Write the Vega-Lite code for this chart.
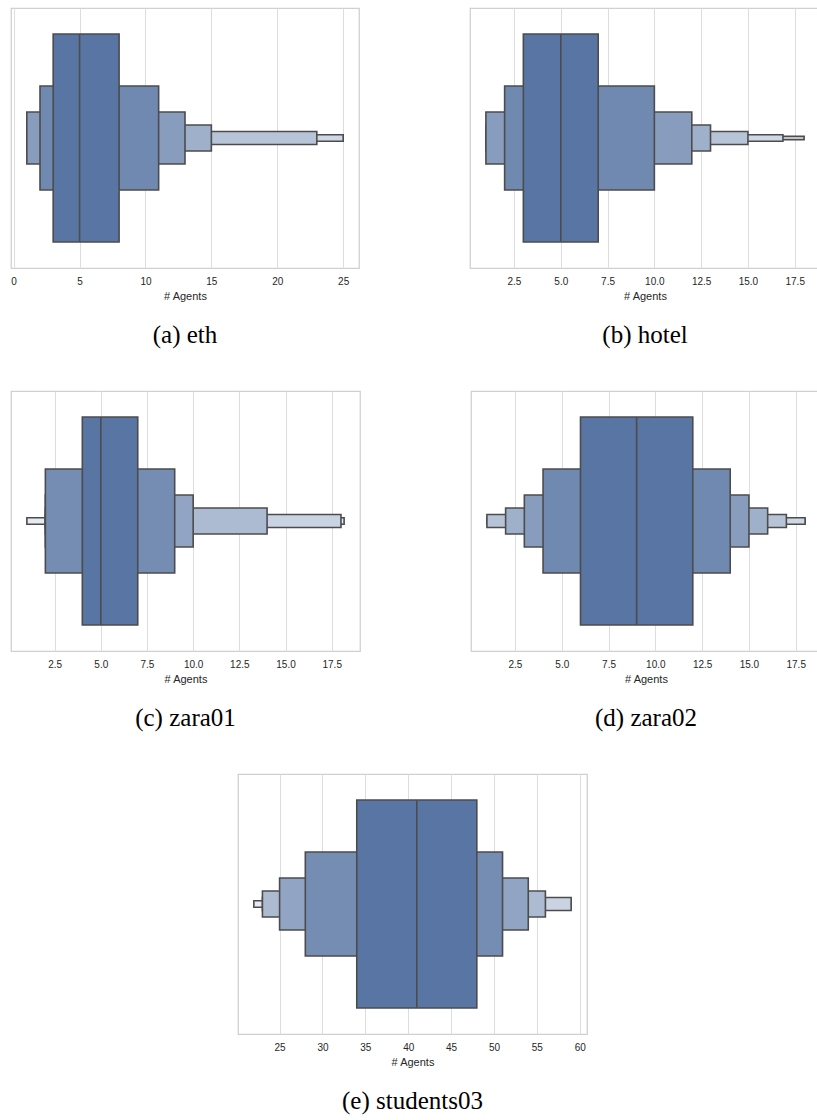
{
  "$schema": "https://vega.github.io/schema/vega-lite/v6.json",
  "background": "white",
  "padding": {"left": 10, "top": 7, "right": 0, "bottom": 0},
  "datasets": {
    "eth": [
      {"set": "eth", "level": 7, "lo": 1, "hi": 25},
      {"set": "eth", "level": 6, "lo": 1, "hi": 25},
      {"set": "eth", "level": 5, "lo": 1, "hi": 23},
      {"set": "eth", "level": 4, "lo": 1, "hi": 15},
      {"set": "eth", "level": 3, "lo": 1, "hi": 13},
      {"set": "eth", "level": 2, "lo": 2, "hi": 11},
      {"set": "eth", "level": 1, "lo": 3, "hi": 8}
    ],
    "hotel": [
      {"set": "hotel", "level": 7, "lo": 1, "hi": 18},
      {"set": "hotel", "level": 6, "lo": 1, "hi": 16.87},
      {"set": "hotel", "level": 5, "lo": 1, "hi": 15},
      {"set": "hotel", "level": 4, "lo": 1, "hi": 13},
      {"set": "hotel", "level": 3, "lo": 1, "hi": 12},
      {"set": "hotel", "level": 2, "lo": 2, "hi": 10},
      {"set": "hotel", "level": 1, "lo": 3, "hi": 7}
    ],
    "zara01": [
      {"set": "zara01", "level": 6, "lo": 1, "hi": 18.17},
      {"set": "zara01", "level": 5, "lo": 2, "hi": 18},
      {"set": "zara01", "level": 4, "lo": 2, "hi": 14},
      {"set": "zara01", "level": 3, "lo": 2, "hi": 10},
      {"set": "zara01", "level": 2, "lo": 2, "hi": 9},
      {"set": "zara01", "level": 1, "lo": 4, "hi": 7}
    ],
    "zara02": [
      {"set": "zara02", "level": 7, "lo": 1, "hi": 18},
      {"set": "zara02", "level": 6, "lo": 1, "hi": 18},
      {"set": "zara02", "level": 5, "lo": 1, "hi": 17},
      {"set": "zara02", "level": 4, "lo": 2, "hi": 16},
      {"set": "zara02", "level": 3, "lo": 3, "hi": 15},
      {"set": "zara02", "level": 2, "lo": 4, "hi": 14},
      {"set": "zara02", "level": 1, "lo": 6, "hi": 12}
    ],
    "students03": [
      {"set": "students03", "level": 6, "lo": 22, "hi": 59},
      {"set": "students03", "level": 5, "lo": 23, "hi": 59},
      {"set": "students03", "level": 4, "lo": 23, "hi": 56},
      {"set": "students03", "level": 3, "lo": 25, "hi": 54},
      {"set": "students03", "level": 2, "lo": 28, "hi": 51},
      {"set": "students03", "level": 1, "lo": 34, "hi": 48}
    ]
  },
  "config": {
    "view": {"stroke": "#d0d0d0", "strokeWidth": 1.25},
    "axis": {
      "labelFont": "Liberation Sans", "labelFontSize": 10, "labelColor": "#262626",
      "titleFont": "Liberation Sans", "titleFontSize": 11, "titleFontWeight": "normal", "titleColor": "#262626",
      "grid": true, "gridColor": "#dddddd", "gridWidth": 1,
      "domain": false, "ticks": false, "labelPadding": 8, "titlePadding": 4, "labelFlush": false
    },
    "title": {"font": "Liberation Serif", "fontSize": 25, "fontWeight": "normal", "color": "#000000", "orient": "bottom", "anchor": "middle", "offset": 22}
  },
  "vconcat": [
    {
      "hconcat": [
        {
          "width": 348, "height": 260,
          "title": {"text": "(a) eth"},
          "layer": [
            {
              "data": {"name": "eth"},
              "mark": {"type": "bar", "stroke": "#4c4c4c", "strokeWidth": 1.6, "opacity": 1},
              "encoding": {
                "x": {"field": "lo", "type": "quantitative", "title": "# Agents", "scale": {"domain": [-0.2, 26.2], "nice": false, "zero": false}, "axis": {"values": [0, 5, 10, 15, 20, 25], "format": "d"}},
                "x2": {"field": "hi"},
                "y": {"field": "set", "type": "nominal", "axis": null, "scale": {"paddingInner": 0, "paddingOuter": 0}},
                "size": {"field": "level", "type": "quantitative", "legend": null, "scale": {"type": "threshold", "domain": [1.5, 2.5, 3.5, 4.5, 5.5, 6.5], "range": [208, 104, 52, 26, 13, 6.5, 3.25]}},
                "color": {"field": "level", "type": "ordinal", "legend": null, "scale": {"domain": [1, 2, 3, 4, 5, 6, 7], "range": ["#5875a4", "#7089b0", "#889cbd", "#9fb0ca", "#b7c3d7", "#ced7e4", "#e6eaf1"]}}
              }
            },
            {
              "data": {"values": [{"set": "eth", "median": 5}]},
              "mark": {"type": "tick", "orient": "vertical", "color": "#4c4c4c", "thickness": 1.6, "size": 208, "opacity": 1},
              "encoding": {"x": {"field": "median", "type": "quantitative"}, "y": {"field": "set", "type": "nominal"}}
            }
          ]
        },
        {
          "width": 350, "height": 260,
          "title": {"text": "(b) hotel"},
          "layer": [
            {
              "data": {"name": "hotel"},
              "mark": {"type": "bar", "stroke": "#4c4c4c", "strokeWidth": 1.6, "opacity": 1},
              "encoding": {
                "x": {"field": "lo", "type": "quantitative", "title": "# Agents", "scale": {"domain": [0.15, 18.85], "nice": false, "zero": false}, "axis": {"values": [2.5, 5, 7.5, 10, 12.5, 15, 17.5], "format": ".1f"}},
                "x2": {"field": "hi"},
                "y": {"field": "set", "type": "nominal", "axis": null, "scale": {"paddingInner": 0, "paddingOuter": 0}},
                "size": {"field": "level", "type": "quantitative", "legend": null, "scale": {"type": "threshold", "domain": [1.5, 2.5, 3.5, 4.5, 5.5, 6.5], "range": [208, 104, 52, 26, 13, 6.5, 3.25]}},
                "color": {"field": "level", "type": "ordinal", "legend": null, "scale": {"domain": [1, 2, 3, 4, 5, 6, 7], "range": ["#5875a4", "#7089b0", "#889cbd", "#9fb0ca", "#b7c3d7", "#ced7e4", "#e6eaf1"]}}
              }
            },
            {
              "data": {"values": [{"set": "hotel", "median": 5}]},
              "mark": {"type": "tick", "orient": "vertical", "color": "#4c4c4c", "thickness": 1.6, "size": 208, "opacity": 1},
              "encoding": {"x": {"field": "median", "type": "quantitative"}, "y": {"field": "set", "type": "nominal"}}
            }
          ]
        }
      ],
      "spacing": 109,
      "resolve": {"scale": {"color": "independent", "size": "independent"}}
    },
    {
      "hconcat": [
        {
          "width": 349, "height": 260,
          "title": {"text": "(c) zara01"},
          "layer": [
            {
              "data": {"name": "zara01"},
              "mark": {"type": "bar", "stroke": "#4c4c4c", "strokeWidth": 1.6, "opacity": 1},
              "encoding": {
                "x": {"field": "lo", "type": "quantitative", "title": "# Agents", "scale": {"domain": [0.14, 19.03], "nice": false, "zero": false}, "axis": {"values": [2.5, 5, 7.5, 10, 12.5, 15, 17.5], "format": ".1f"}},
                "x2": {"field": "hi"},
                "y": {"field": "set", "type": "nominal", "axis": null, "scale": {"paddingInner": 0, "paddingOuter": 0}},
                "size": {"field": "level", "type": "quantitative", "legend": null, "scale": {"type": "threshold", "domain": [1.5, 2.5, 3.5, 4.5, 5.5], "range": [208, 104, 52, 26, 13, 6.5]}},
                "color": {"field": "level", "type": "ordinal", "legend": null, "scale": {"domain": [1, 2, 3, 4, 5, 6], "range": ["#5875a4", "#758cb3", "#91a4c3", "#adbbd2", "#cad3e2", "#e6eaf1"]}}
              }
            },
            {
              "data": {"values": [{"set": "zara01", "median": 5}]},
              "mark": {"type": "tick", "orient": "vertical", "color": "#4c4c4c", "thickness": 1.6, "size": 208, "opacity": 1},
              "encoding": {"x": {"field": "median", "type": "quantitative"}, "y": {"field": "set", "type": "nominal"}}
            }
          ]
        },
        {
          "width": 350, "height": 260,
          "title": {"text": "(d) zara02"},
          "layer": [
            {
              "data": {"name": "zara02"},
              "mark": {"type": "bar", "stroke": "#4c4c4c", "strokeWidth": 1.6, "opacity": 1},
              "encoding": {
                "x": {"field": "lo", "type": "quantitative", "title": "# Agents", "scale": {"domain": [0.15, 18.85], "nice": false, "zero": false}, "axis": {"values": [2.5, 5, 7.5, 10, 12.5, 15, 17.5], "format": ".1f"}},
                "x2": {"field": "hi"},
                "y": {"field": "set", "type": "nominal", "axis": null, "scale": {"paddingInner": 0, "paddingOuter": 0}},
                "size": {"field": "level", "type": "quantitative", "legend": null, "scale": {"type": "threshold", "domain": [1.5, 2.5, 3.5, 4.5, 5.5, 6.5], "range": [208, 104, 52, 26, 13, 6.5, 3.25]}},
                "color": {"field": "level", "type": "ordinal", "legend": null, "scale": {"domain": [1, 2, 3, 4, 5, 6, 7], "range": ["#5875a4", "#7089b0", "#889cbd", "#9fb0ca", "#b7c3d7", "#ced7e4", "#e6eaf1"]}}
              }
            },
            {
              "data": {"values": [{"set": "zara02", "median": 9}]},
              "mark": {"type": "tick", "orient": "vertical", "color": "#4c4c4c", "thickness": 1.6, "size": 208, "opacity": 1},
              "encoding": {"x": {"field": "median", "type": "quantitative"}, "y": {"field": "set", "type": "nominal"}}
            }
          ]
        }
      ],
      "spacing": 109,
      "resolve": {"scale": {"color": "independent", "size": "independent"}}
    },
    {
      "hconcat": [
        {
          "width": 226, "height": 260,
          "view": {"stroke": null},
          "data": {"values": []},
          "mark": "point"
        },
        {
          "width": 349, "height": 260,
          "title": {"text": "(e) students03"},
          "layer": [
            {
              "data": {"name": "students03"},
              "mark": {"type": "bar", "stroke": "#4c4c4c", "strokeWidth": 1.6, "opacity": 1},
              "encoding": {
                "x": {"field": "lo", "type": "quantitative", "title": "# Agents", "scale": {"domain": [20.15, 60.85], "nice": false, "zero": false}, "axis": {"values": [25, 30, 35, 40, 45, 50, 55, 60], "format": "d"}},
                "x2": {"field": "hi"},
                "y": {"field": "set", "type": "nominal", "axis": null, "scale": {"paddingInner": 0, "paddingOuter": 0}},
                "size": {"field": "level", "type": "quantitative", "legend": null, "scale": {"type": "threshold", "domain": [1.5, 2.5, 3.5, 4.5, 5.5], "range": [208, 104, 52, 26, 13, 6.5]}},
                "color": {"field": "level", "type": "ordinal", "legend": null, "scale": {"domain": [1, 2, 3, 4, 5, 6], "range": ["#5875a4", "#758cb3", "#91a4c3", "#adbbd2", "#cad3e2", "#e6eaf1"]}}
              }
            },
            {
              "data": {"values": [{"set": "students03", "median": 41}]},
              "mark": {"type": "tick", "orient": "vertical", "color": "#4c4c4c", "thickness": 1.6, "size": 208, "opacity": 1},
              "encoding": {"x": {"field": "median", "type": "quantitative"}, "y": {"field": "set", "type": "nominal"}}
            }
          ]
        }
      ],
      "spacing": 0,
      "resolve": {"scale": {"color": "independent", "size": "independent"}}
    }
  ],
  "spacing": 41,
  "resolve": {"scale": {"color": "independent", "size": "independent"}}
}
